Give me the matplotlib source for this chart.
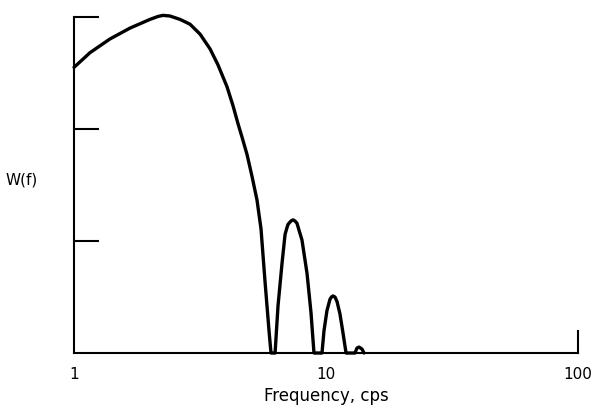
import matplotlib
matplotlib.use("Agg")
import matplotlib.pyplot as plt

# main lobe
main_f = [1.000, 1.157, 1.389, 1.668, 2.003, 2.154, 2.256, 2.404, 2.634, 2.886,
          3.162, 3.465, 3.728, 4.047, 4.276, 4.475, 4.642, 4.859, 5.086, 5.323,
          5.522, 5.728, 5.940, 6.050]
main_w = [2.553, 2.684, 2.807, 2.904, 2.982, 3.008, 3.018, 3.012, 2.982, 2.939,
          2.851, 2.719, 2.575, 2.380, 2.210, 2.050, 1.930, 1.775, 1.579, 1.368,
          1.110, 0.640, 0.202, 0.0]

# side lobes
lobe2_f = [6.28, 6.45, 6.69, 6.88, 7.00, 7.07, 7.26, 7.40, 7.53, 7.67, 7.81,
           8.03, 8.41, 8.72, 8.96]
lobe2_w = [0.0, 0.42, 0.80, 1.06, 1.12, 1.15, 1.18, 1.19, 1.18, 1.16, 1.10,
           1.01, 0.71, 0.36, 0.0]
lobe3_f = [9.64, 9.82, 10.09, 10.37, 10.51, 10.66, 10.86, 11.06, 11.36, 11.68, 12.01]
lobe3_w = [0.0, 0.20, 0.38, 0.48, 0.50, 0.51, 0.50, 0.46, 0.35, 0.18, 0.0]
lobe4_f = [13.03, 13.27, 13.52, 13.90, 14.15]
lobe4_w = [0.0, 0.044, 0.053, 0.035, 0.0]

x_ticks = [1, 10, 100]
x_tick_labels = ["1", "10", "100"]
y_ticks = [1, 2, 3]

fig = plt.figure(figsize=(5.91, 4.09), dpi=100)
ax = fig.add_axes([0.1252, 0.1369, 0.8528, 0.848])

freq = main_f + lobe2_f + lobe3_f + lobe4_f
w = main_w + lobe2_w + lobe3_w + lobe4_w
ax.plot(freq, w, color="black", linewidth=2.4, solid_joinstyle="round",
        solid_capstyle="round", clip_on=False)

ax.set_xscale("log")
ax.set_xlim(1, 100)
ax.set_ylim(0, 3.1)

# axes look: left spine up to top tick, short stub at 100
ax.spines["top"].set_visible(False)
ax.spines["left"].set_bounds(0, 3)
ax.spines["right"].set_bounds(0, 0.2)
for s in ["left", "bottom", "right"]:
    ax.spines[s].set_linewidth(1.5)

ax.set_xticks(x_ticks)
ax.set_xticklabels(x_tick_labels)
ax.xaxis.set_minor_locator(matplotlib.ticker.NullLocator())
ax.tick_params(axis="x", length=0, pad=10, labelsize=11)

ax.set_yticks(y_ticks)
ax.set_yticklabels([])
ax.tick_params(axis="y", direction="in", length=18, width=1.5)

ax.set_xlabel("Frequency, cps", fontsize=12, labelpad=4)
ax.set_ylabel("W(f)", fontsize=11, rotation=0, labelpad=34, va="center")

plt.savefig("out.png", dpi=100)
